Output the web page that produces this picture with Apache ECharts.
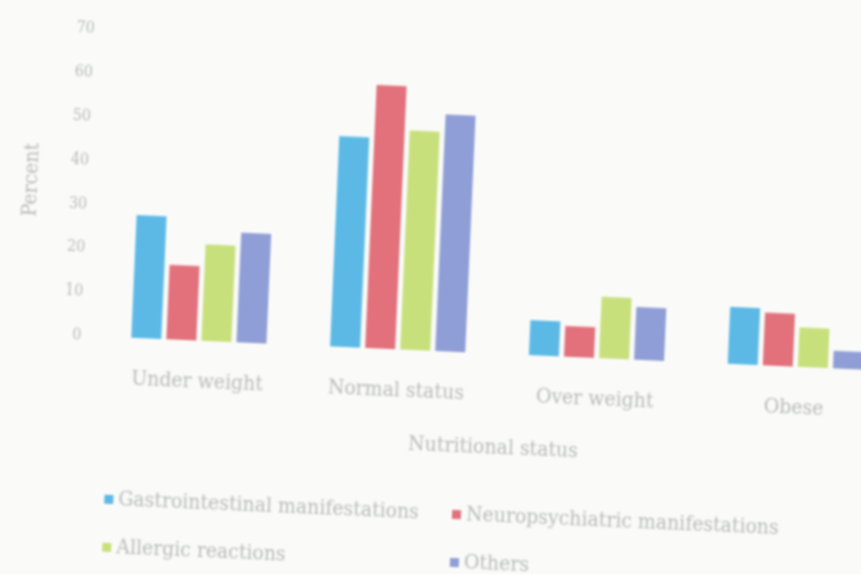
<!DOCTYPE html>
<html>
<head>
<meta charset="utf-8">
<title>Nutritional status</title>
<script src="https://cdn.jsdelivr.net/npm/echarts@6/dist/echarts.min.js"></script>
<style>
  html, body { margin: 0; padding: 0; width: 861px; height: 574px; overflow: hidden; background: #fafbf9; }
  #chart {
    position: absolute; left: 0; top: 0; width: 940px; height: 600px;
    transform-origin: 70px 300px;
    transform: rotate(2.5deg);
    filter: blur(1.2px);
  }
</style>
</head>
<body>
<div id="chart"></div>
<script>
// Nutritional status groups
const categories = ['Under weight', 'Normal status', 'Over weight', 'Obese'];

// Percent of each manifestation type per nutritional status
const gastrointestinal = [28, 48, 8, 13];
const neuropsychiatric = [17, 60, 7, 12];
const allergic = [22, 50, 14, 9];
const others = [25, 54, 12, 4];

const yTicks = { min: 0, max: 70, interval: 10 };

const seriesNames = [
  'Gastrointestinal manifestations',
  'Neuropsychiatric manifestations',
  'Allergic reactions',
  'Others'
];
const seriesData = [gastrointestinal, neuropsychiatric, allergic, others];
const colors = ['#5cb9e6', '#e2717c', '#c8e07c', '#8f9ed6'];

const textColor = '#b9bbb9';
const fontFamily = '"DejaVu Serif Condensed", "Liberation Serif", serif';

const chart = echarts.init(document.getElementById('chart'));

const legendText = { color: textColor, fontSize: 21, fontFamily: fontFamily };

chart.setOption({
  animation: false,
  backgroundColor: '#fafbf9',
  color: colors,
  textStyle: { fontFamily: fontFamily, color: textColor },
  grid: { left: 101, top: 28, width: 796, height: 307 },
  legend: [
    {
      data: [seriesNames[0], seriesNames[2]],
      orient: 'vertical', left: 108, top: 482,
      itemWidth: 9, itemHeight: 9, itemGap: 27,
      icon: 'rect',
      textStyle: legendText
    },
    {
      data: [seriesNames[1], seriesNames[3]],
      orient: 'vertical', left: 456, top: 482,
      itemWidth: 9, itemHeight: 9, itemGap: 27,
      icon: 'rect',
      textStyle: legendText
    }
  ],
  xAxis: {
    type: 'category',
    data: categories,
    name: 'Nutritional status',
    nameLocation: 'middle',
    nameGap: 84,
    nameTextStyle: { color: textColor, fontSize: 21 },
    axisLine: { show: false },
    axisTick: { show: false },
    axisLabel: { color: textColor, fontSize: 21, margin: 31 }
  },
  yAxis: {
    type: 'value',
    min: yTicks.min, max: yTicks.max, interval: yTicks.interval,
    name: 'Percent',
    nameLocation: 'middle',
    nameGap: 64,
    nameTextStyle: { color: textColor, fontSize: 21 },
    axisLine: { show: false },
    axisTick: { show: false },
    splitLine: { show: false },
    axisLabel: { color: textColor, fontSize: 16, margin: 18 }
  },
  series: seriesData.map((d, i) => ({
    name: seriesNames[i],
    type: 'bar',
    data: d,
    barWidth: 30,
    barGap: '17%',
    itemStyle: { color: colors[i] }
  }))
});
</script>
</body>
</html>
